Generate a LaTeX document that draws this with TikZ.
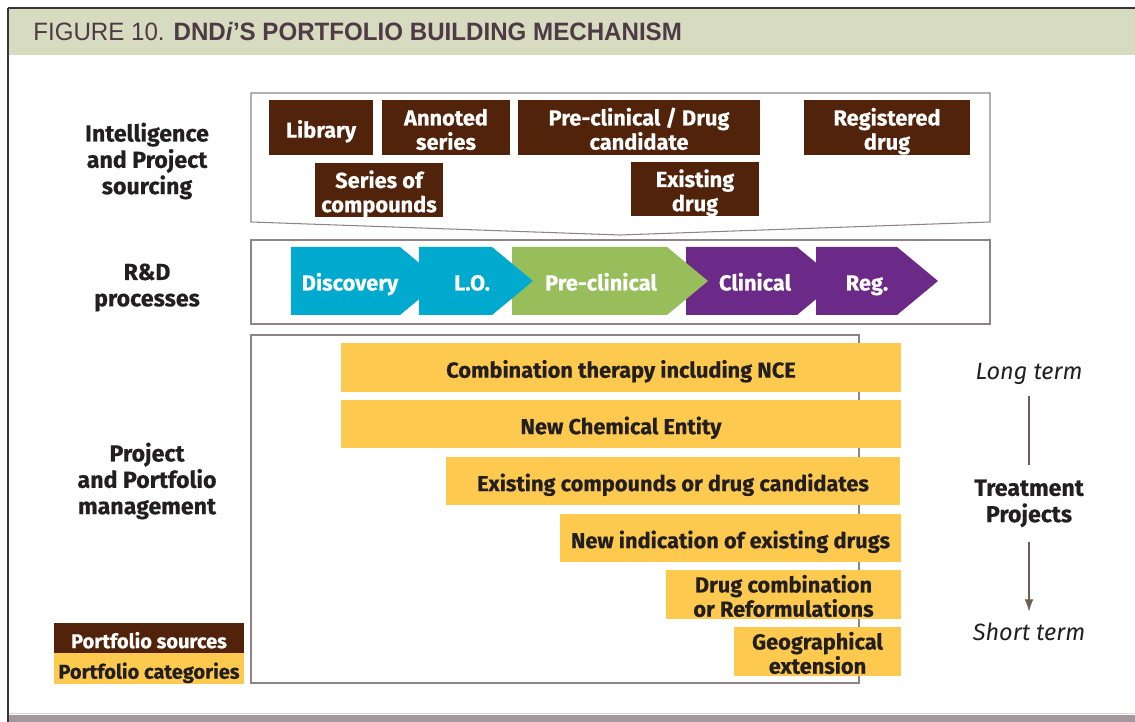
\documentclass[tikz,border=0pt]{standalone}
\usepackage{fontspec}
\setmainfont{Fira Sans}[BoldFeatures={FakeBold=0.4}]
\newfontfamily\titlefont{Liberation Sans}[FakeStretch=0.96]
\usetikzlibrary{arrows.meta}

\definecolor{srcbrown}{HTML}{51230B}
\definecolor{catyellow}{HTML}{FDCA4F}
\definecolor{disccyan}{HTML}{00A9CE}
\definecolor{preclingreen}{HTML}{98BE5B}
\definecolor{clinpurple}{HTML}{6B2A87}
\definecolor{titleband}{HTML}{D7DCC0}
\definecolor{titletext}{HTML}{4E3B46}
\definecolor{framegray}{HTML}{8E8486}
\definecolor{framedark}{HTML}{3E3338}
\definecolor{bottomband}{HTML}{A5979E}
\definecolor{inkdark}{HTML}{231F20}
\definecolor{arrowbrown}{HTML}{6E5C55}

\begin{document}
\begin{tikzpicture}[x=0.02cm, y=-0.02cm,
    boxsize/.style 2 args={minimum width=#1*0.02cm, minimum height=#2*0.02cm},
    oneline/.style={text height=11.6pt, text depth=0pt},
    twoline/.style={text height=25.3pt, text depth=0pt},
    lbl/.style={font=\fontsize{13.2}{15}\selectfont\bfseries, text=inkdark, align=center},
    srcbox/.style={fill=srcbrown, text=white, inner sep=0pt, align=center,
      font=\fontsize{12.4}{13.8}\selectfont\bfseries},
    catbox/.style={fill=catyellow, text=inkdark, inner sep=0pt, align=center,
      font=\fontsize{12.4}{13.8}\selectfont\bfseries},
    phase/.style={text=white, text height=13.8pt, text depth=3pt,
      font=\fontsize{12.4}{13.8}\selectfont\bfseries},
    term/.style={font=\fontsize{13.4}{15}\selectfont\itshape, text=inkdark}]
  \useasboundingbox (0,0) rectangle (1135,722);

  % Title band and frame
  \fill[titleband] (8,8) rectangle (1135,55);
  \fill[bottomband] (8,715) rectangle (1135,722);
  \draw[black!15, line width=0.5pt] (8,713) -- (1135,713);
  \draw[framedark, line width=1.2pt] (8,8) -- (1135,8);
  \draw[framedark, line width=0.7pt] (8,8) -- (8,722);
  \node[anchor=base west, inner sep=0pt, text=titletext,
        font=\titlefont\fontsize{14.3}{16}\selectfont] (title) at (33,41)
    {FIGURE 10. \textbf{DND\textit{i}’S PORTFOLIO BUILDING MECHANISM}};

  % Row labels
  \node[lbl] (intel) at (147,161) {Intelligence\\and Project\\sourcing};
  \node[lbl] (rnd)   at (147,287.5) {R\&D\\processes};
  \node[lbl] (mgmt)  at (147,481) {Project\\and Portfolio\\management};

  % Sourcing box
  \draw[framegray, line width=0.6pt]
    (251,93) -- (990,93) -- (990,222) -- (620,235) -- (251,222) -- cycle;
  \node[srcbox, oneline, boxsize={104}{55}] (library)  at (321,127.5) {Library};
  \node[srcbox, twoline, boxsize={128}{55}] (annoted)  at (446,127.5) {Annoted\\series};
  \node[srcbox, twoline, boxsize={242}{55}] (candid)   at (639,127.5) {Pre-clinical / Drug\\candidate};
  \node[srcbox, twoline, boxsize={166}{55}] (regdrug)  at (887,127.5) {Registered\\drug};
  \node[srcbox, twoline, boxsize={128}{54}] (series)   at (379,190) {Series of\\compounds};
  \node[srcbox, twoline, boxsize={128}{54}] (existing) at (695,189) {Existing\\drug};

  % R&D processes
  \draw[framegray, line width=0.6pt] (251,240) rectangle (990,324);
  \fill[disccyan]     (291,247) -- (400,247) -- (441,281) -- (400,315) -- (291,315) -- cycle;
  \fill[clinpurple]   (816,247) -- (897,247) -- (938,281) -- (897,315) -- (816,315) -- cycle;
  \fill[clinpurple]   (686,247) -- (797,247) -- (838,281) -- (797,315) -- (686,315) -- cycle;
  \fill[preclingreen] (512,247) -- (667,247) -- (708,281) -- (667,315) -- (512,315) -- cycle;
  \fill[disccyan]     (419,247) -- (492,247) -- (533,281) -- (492,315) -- (419,315) -- cycle;
  \node[phase] (disc)    at (350,281) {Discovery};
  \node[phase] (lo)      at (472,281) {L.O.};
  \node[phase] (preclin) at (601,281) {Pre-clinical};
  \node[phase] (clin)    at (755,281) {Clinical};
  \node[phase] (reg)     at (867,281) {Reg.};

  % Portfolio categories
  \draw[framegray, line width=0.6pt] (251,335) rectangle (859,683);
  \node[catbox, oneline, boxsize={560}{49}] (combo)    at (621,367.5) {Combination therapy including NCE};
  \node[catbox, oneline, boxsize={560}{48}] (nce)      at (621,424) {New Chemical Entity};
  \node[catbox, oneline, boxsize={454}{48}] (compound) at (673,481) {Existing compounds or drug candidates};
  \node[catbox, oneline, boxsize={341}{48}] (newind)   at (730.5,538) {New indication of existing drugs};
  \node[catbox, twoline, boxsize={235}{49}] (reform)   at (783.5,594.5) {Drug combination\\or Reformulations};
  \node[catbox, twoline, boxsize={167}{49}] (geo)      at (817.5,651.5) {Geographical\\extension};

  % Time axis
  \node[term] (long)  at (1029,374) {Long term};
  \node[lbl]  (treat) at (1029,503.5) {Treatment\\Projects};
  \node[term] (short) at (1029,632) {Short term};
  \draw[arrowbrown, line width=0.6pt, shorten <=3pt, shorten >=5pt] (long) -- (treat);
  \draw[arrowbrown, line width=0.6pt, shorten <=5pt, shorten >=3pt,
        -{Latex[length=7pt, width=5pt]}] (treat) -- (short);

  % Legend
  \node[srcbox, oneline, boxsize={190}{30}, font=\fontsize{11.4}{12}\selectfont\bfseries]
    (legsrc) at (149,638) {Portfolio sources};
  \node[catbox, oneline, boxsize={190}{31}, font=\fontsize{11.4}{12}\selectfont\bfseries]
    (legcat) at (149,668.5) {Portfolio categories};
\end{tikzpicture}
\end{document}
